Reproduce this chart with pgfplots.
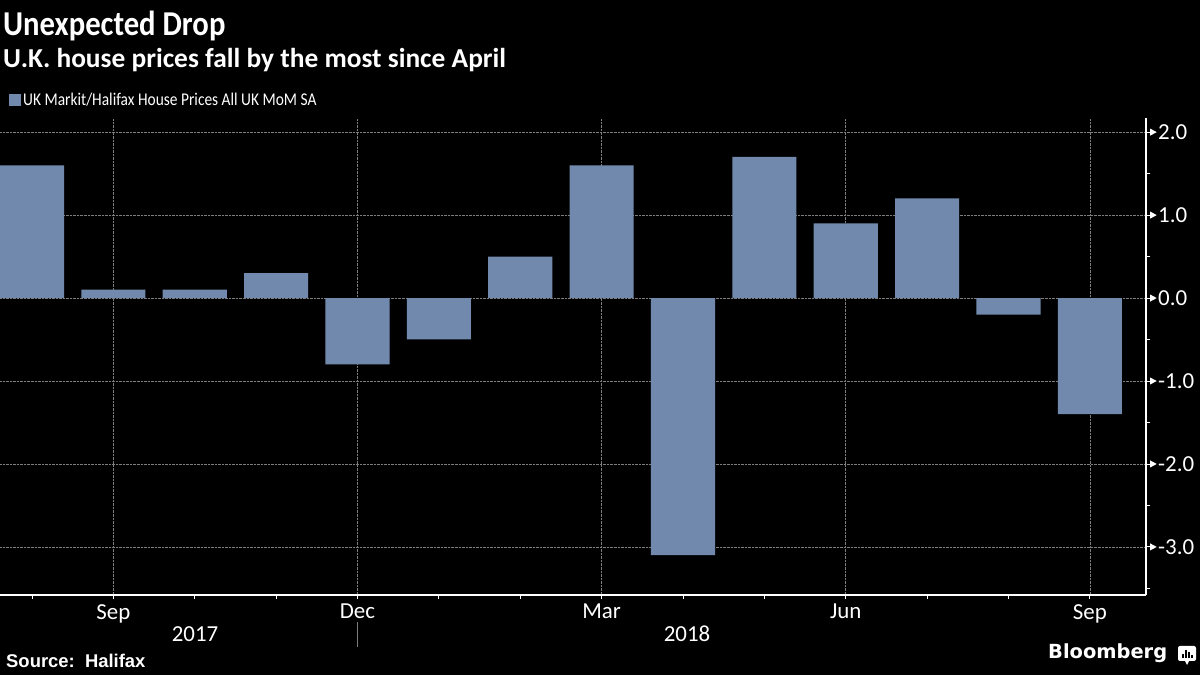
\documentclass[border=0pt]{standalone}
\usepackage{pgfplots}
\pgfplotsset{compat=1.18}
\usepackage{fontspec}
\setmainfont{Carlito}
\newfontfamily\cond[FakeStretch=0.86]{Carlito}
\newfontfamily\titlefont[FakeStretch=0.88]{Carlito}
\newfontfamily\srcfont{Liberation Sans}
\newfontfamily\logofont{DejaVu Sans}
\definecolor{barblue}{RGB}{113,137,172}
\definecolor{gridgray}{RGB}{125,125,125}
\newcommand\tri{\tikz[baseline=0pt]\fill[white] (0,3.8bp) -- (6.5bp,7.3bp) -- (0,10.8bp) -- cycle;\hspace{1.5bp}}

\begin{document}
\begin{tikzpicture}[x=1bp,y=1bp]
\fill[black] (0,0) rectangle (1200,675);

% titles
\node[anchor=base west, inner sep=0, white, font=\titlefont\bfseries\fontsize{35}{35}\selectfont] at (3,639) {Unexpected Drop};
\node[anchor=base west, inner sep=0, white, font=\bfseries\fontsize{27.5}{27.5}\selectfont] at (3,607) {U.K. house prices fall by the most since April};

% legend
\fill[barblue] (9,569) rectangle (21,581);
\node[anchor=base west, inner sep=0, white, font=\cond\fontsize{18}{18}\selectfont] at (23,569) {UK Markit/Halifax House Prices All UK MoM SA};

\begin{axis}[
    at={(0bp,80bp)}, anchor=south west,
    scale only axis, width=1146bp, height=477bp,
    xmin=-0.393, xmax=13.69,
    ymin=-3.58, ymax=2.17,
    axis x line=bottom, axis y line=right,
    axis line style={-, white, line width=1.1bp},
    xtick={1,4,7,10,13},
    xticklabels={Sep,Dec,Mar,Jun,Sep},
    minor xtick={0,2,3,5,6,8,9,11,12},
    ytick={-3,-2,-1,0,1,2},
    yticklabels={\tri-3.0,\tri-2.0,\tri-1.0,\tri0.0,\tri1.0,\tri2.0},
    minor ytick={-3.5,-2.5,-1.5,-0.5,0.5,1.5},
    tick align=outside,
    major tick length=4bp, minor tick length=4bp,
    tick style={white, line width=0.8bp},
    xticklabel style={white, font=\fontsize{23}{23}\selectfont, inner sep=0, yshift=-5bp},
    yticklabel style={white, font=\fontsize{23}{23}\selectfont, inner sep=0, anchor=west},
    xmajorgrids, ymajorgrids,
    grid style={densely dotted, gridgray, line width=0.7bp},
    ybar, bar width=0.787,
]
\addplot[fill=barblue, draw=none] coordinates {
    (0,1.6) (1,0.1) (2,0.1) (3,0.3) (4,-0.8) (5,-0.5) (6,0.5)
    (7,1.6) (8,-3.1) (9,1.7) (10,0.9) (11,1.2) (12,-0.2) (13,-1.4)
};
\end{axis}

% year labels
\node[anchor=base, inner sep=0, white, font=\fontsize{23}{23}\selectfont] at (195,33) {2017};
\node[anchor=base, inner sep=0, white, font=\fontsize{23}{23}\selectfont] at (687,33) {2018};
\draw[gridgray, line width=0.8bp] (357,53) -- (357,28);

% footer
\node[anchor=base west, inner sep=0, white, font=\srcfont\bfseries\fontsize{18.5}{18.5}\selectfont] at (6,7) {Source:\ \ Halifax};
\node[anchor=base west, inner sep=0, white, font=\logofont\bfseries\fontsize{19.5}{19.5}\selectfont] at (1048,16) {Bloomberg};
\fill[white, rounded corners=2bp] (1178,14) rectangle (1196,29);
\fill[white] (1185,14) -- (1187,10) -- (1189,14) -- cycle;
\fill[black] (1182,17) rectangle (1183.5,21);
\fill[black] (1185,17) rectangle (1186.5,25);
\fill[black] (1188,17) rectangle (1189.5,23);
\fill[black] (1191,17) rectangle (1192.5,20);

\pgfresetboundingbox
\path (0,0) rectangle (1200,675);
\end{tikzpicture}
\end{document}
